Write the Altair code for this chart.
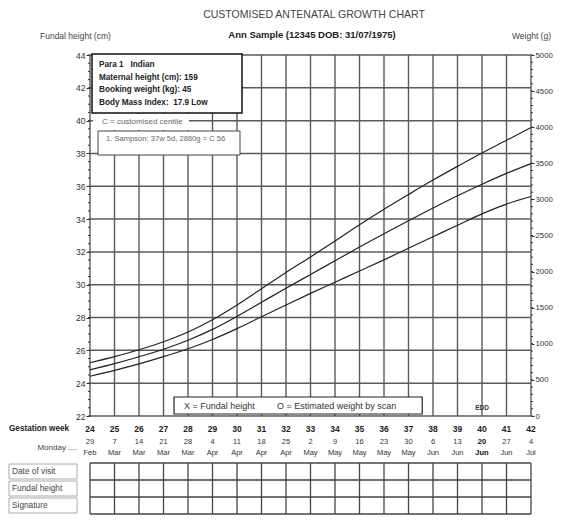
import altair as alt
import pandas as pd

# ---------------- data ----------------
weeks = list(range(24, 43))
centile_90 = [738, 823, 918, 1028, 1163, 1333, 1538, 1763, 1988, 2203, 2423, 2648, 2863, 3068, 3268, 3458, 3643, 3818, 3995]
centile_50 = [640, 725, 820, 925, 1050, 1200, 1380, 1575, 1770, 1960, 2150, 2340, 2525, 2705, 2880, 3050, 3210, 3360, 3495]
centile_10 = [550, 632, 722, 822, 932, 1060, 1210, 1375, 1538, 1698, 1853, 2008, 2163, 2323, 2483, 2643, 2800, 2935, 3040]
monday_day = ["29", "7", "14", "21", "28", "4", "11", "18", "25", "2", "9", "16", "23", "30", "6", "13", "20", "27", "4"]
monday_month = ["Feb", "Mar", "Mar", "Mar", "Mar", "Apr", "Apr", "Apr", "Apr", "May", "May", "May", "May", "May",
                "Jun", "Jun", "Jun", "Jun", "Jul"]
fundal_major = list(range(22, 45, 2))
fundal_minor = [v / 2 for v in range(44, 89)]
weight_major = list(range(0, 5001, 500))
weight_minor = list(range(0, 5001, 100))
edd_week = 40
info_lines = ["Para 1\u00a0\u00a0 Indian", "Maternal height (cm): 159",
              "Booking weight (kg): 45", "Body Mass Index:\u00a0 17.9 Low"]
table_rows = ["Date of visit", "Fundal height", "Signature"]

FONT = "Liberation Sans"
W, H = 441, 361
GRID = "#5a5a5a"
WK = W / 18.0  # pixels per week, used only to place the annotation boxes

df_weeks = pd.DataFrame({"week": weeks, "day": monday_day, "month": monday_month})
df_curves = pd.concat([
    pd.DataFrame({"week": weeks, "weight": vals, "centile": name})
    for name, vals in [("90th", centile_90), ("50th", centile_50), ("10th", centile_10)]
])
df_cm = pd.DataFrame({"cm": fundal_major})
df_cm_minor = pd.DataFrame({"cm": fundal_minor})
df_w_minor = pd.DataFrame({"weight": weight_minor})
one = pd.DataFrame({"a": [0]})

xs = alt.Scale(domain=[24, 42], nice=False, zero=False)
ycm = alt.Scale(domain=[22, 44], nice=False, zero=False)
yw = alt.Scale(domain=[0, 5000], nice=False, zero=True)
X = alt.X("week:Q", scale=xs, axis=None)

ax_cm = alt.Axis(orient="left", values=fundal_major, tickSize=4, tickColor="#333", domain=False, grid=False,
                 title=None, labelFont=FONT, labelFontSize=8.5, labelColor="#333", labelPadding=1)
ax_w = alt.Axis(orient="right", values=weight_major, format="d", tickSize=3, tickColor="#333", domain=False,
                grid=False, title=None, labelFont=FONT, labelFontSize=7.8, labelColor="#333", labelPadding=1)


def txt(s, x, y, size=8, weight="normal", color="#333", align="left"):
    return alt.Chart(pd.DataFrame({"t": [s]})).mark_text(
        font=FONT, fontSize=size, fontWeight=weight, color=color, align=align, baseline="middle"
    ).encode(text="t:N", x=alt.value(x), y=alt.value(y))


def box(x1, x2, y1, y2, stroke="#111", sw=1.0, fill="white"):
    return alt.Chart(one).mark_rect(fill=fill, stroke=stroke, strokeWidth=sw).encode(
        x=alt.value(x1), x2=alt.value(x2), y=alt.value(y1), y2=alt.value(y2))


def hline(y, x1=0, x2=W, color="#444", sw=1.3):
    return alt.Chart(one).mark_rule(color=color, strokeWidth=sw).encode(
        x=alt.value(x1), x2=alt.value(x2), y=alt.value(y))


# ---------------- grid & axes ----------------
vgrid = alt.Chart(df_weeks).mark_rule(color=GRID, strokeWidth=1.4).encode(x=X)

hgrid = alt.Chart(df_cm).mark_rule(color=GRID, strokeWidth=1.5).encode(
    y=alt.Y("cm:Q", scale=ycm, axis=ax_cm))
cm_minor = alt.Chart(df_cm_minor).mark_rule(color="#333", strokeWidth=1).encode(
    y=alt.Y("cm:Q", scale=ycm, axis=ax_cm), x=alt.value(-2), x2=alt.value(0))
cm_layer = alt.layer(hgrid, cm_minor)

curves = alt.Chart(df_curves).mark_line(color="#222", strokeWidth=1.2, interpolate="monotone").encode(
    x=X, y=alt.Y("weight:Q", scale=yw, axis=ax_w), detail="centile:N")
w_minor = alt.Chart(df_w_minor).mark_rule(color="#333", strokeWidth=1).encode(
    y=alt.Y("weight:Q", scale=yw, axis=ax_w), x=alt.value(W), x2=alt.value(W + 2))
w_layer = alt.layer(curves, w_minor)

layers = [vgrid, cm_layer, w_layer]

# ---------------- info boxes ----------------
layers.append(box(2, 152, -1, 58, stroke="#111", sw=1.5))
for i, line in enumerate(info_lines):
    layers.append(txt(line, 9, 10 + i * 12.6, size=8.2, weight="bold", color="#222"))
layers.append(box(3, 99, 59, 75, stroke="white", sw=0))
layers.append(txt("C = customised centile", 12, 67, size=8, color="#666"))
layers.append(box(8, 150, 76, 100, stroke="#444", sw=1))
layers.append(txt("1. Sampson: 37w 5d, 2860g = C 56", 16, 84, size=7.6, color="#666"))

# ---------------- legend box ----------------
lx1, lx2 = 3.43 * WK, 13.56 * WK
layers.append(box(lx1, lx2, 342, 359, stroke="#222", sw=1.2))
layers.append(txt("X = Fundal height", lx1 + 10, 350.5, size=9, color="#333"))
layers.append(txt("O = Estimated weight by scan", lx1 + 103, 350.5, size=9, color="#333"))

# EDD marker
edd = alt.Chart(df_weeks).transform_filter(alt.datum.week == edd_week).mark_text(
    font=FONT, fontSize=6.5, fontWeight="bold", color="#333", baseline="middle").encode(
    x=X, y=alt.value(353), text=alt.value("EDD"))
layers.append(edd)

# ---------------- titles ----------------
layers.append(txt("CUSTOMISED ANTENATAL GROWTH CHART", 224, -40, size=10.5, color="#444", align="center"))
layers.append(txt("Ann Sample (12345 DOB: 31/07/1975)", 222, -20, size=9.5, weight="bold", color="#222", align="center"))
layers.append(txt("Fundal height (cm)", -50, -19, size=8.5, color="#444"))
layers.append(txt("Weight (g)", 461, -19, size=8.5, color="#444", align="right"))

# ---------------- week / date rows ----------------
layers.append(txt("Gestation week", -81, 374, size=8.2, weight="bold", color="#222"))
layers.append(txt("Monday ....", -13, 393, size=8, color="#444", align="right"))
week_lbl = alt.Chart(df_weeks).mark_text(font=FONT, fontSize=8.5, fontWeight="bold", color="#222",
                                         baseline="middle").encode(x=X, y=alt.value(374), text="week:N")
layers.append(week_lbl)
for field, yy in [("day", 387), ("month", 398)]:
    normal = alt.Chart(df_weeks).transform_filter(alt.datum.week != edd_week).mark_text(
        font=FONT, fontSize=7.5, color="#333", baseline="middle").encode(x=X, y=alt.value(yy), text=f"{field}:N")
    bold = alt.Chart(df_weeks).transform_filter(alt.datum.week == edd_week).mark_text(
        font=FONT, fontSize=7.5, fontWeight="bold", color="#111", baseline="middle").encode(
        x=X, y=alt.value(yy), text=f"{field}:N")
    layers += [normal, bold]

# ---------------- bottom table ----------------
row_edges = [408, 425, 442, 459]
for i, name in enumerate(table_rows):
    layers.append(box(-81, -13, row_edges[i] + 1, row_edges[i + 1] - 1, stroke="#aaa", sw=1))
    layers.append(txt(name, -78, (row_edges[i] + row_edges[i + 1]) / 2, size=8.3, color="#444"))
for ry in row_edges:
    layers.append(hline(ry))
table_v = alt.Chart(df_weeks).mark_rule(color="#444", strokeWidth=1.3).encode(
    x=X, y=alt.value(row_edges[0]), y2=alt.value(row_edges[-1]))
layers.append(table_v)

chart = alt.layer(*layers).resolve_scale(y="independent").properties(
    width=W, height=H,
    autosize=alt.AutoSizeParams(type="none"),
    padding={"left": 82, "top": 47, "right": 545 - 82 - W, "bottom": 100},
    background="white",
).configure_view(stroke=None)

chart.save("out.html", embed_options={"renderer": "svg", "actions": False})
